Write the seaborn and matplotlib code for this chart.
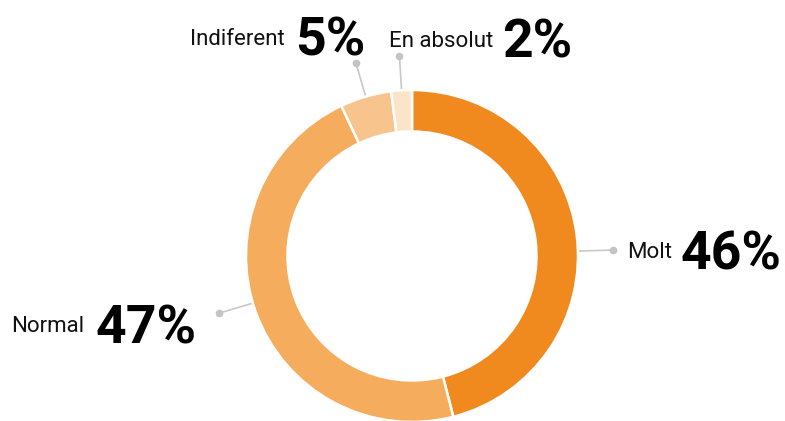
import numpy as np
import matplotlib
matplotlib.use('Agg')
import matplotlib.pyplot as plt
import seaborn as sns

labels = ['Molt', 'Normal', 'Indiferent', 'En absolut']
values = [46, 47, 5, 2]
colors = ['#F18A1E', '#F5AC5C', '#F8C48E', '#FCE4C8']

sns.set_theme(style='white')
plt.rcParams['font.family'] = ['Roboto', 'DejaVu Sans']

W, H = 785, 421
fig = plt.figure(figsize=(W / 100, H / 100), dpi=100)
ax = fig.add_axes([0, 0, 1, 1])

cx, cy, r = 412, H - 256, 166
wedges, _ = ax.pie(values, colors=colors, startangle=90, counterclock=False,
                   radius=r, center=(cx, cy),
                   wedgeprops=dict(width=r * 0.25, edgecolor='white', linewidth=1.8))
ax.set_xlim(0, W)
ax.set_ylim(0, H)
ax.set_aspect('equal')
ax.axis('off')

# label layout (pixels): name x, name baseline, number x, number baseline, leader angle
layout = {
    'Molt': (627, 258, 681, 270, 1.7),
    'Normal': (11, 332, 96, 343, -163.5),
    'Indiferent': (190, 45, 295, 55, None),
    'En absolut': (389, 47, 502, 58, None),
}
for w, lab, val in zip(wedges, labels, values):
    nx, ny, vx, vy, ang = layout[lab]
    if ang is None:
        ang = (w.theta1 + w.theta2) / 2
    a = np.deg2rad(ang)
    x0, y0 = cx + r * np.cos(a), cy + r * np.sin(a)
    x1, y1 = cx + r * 1.21 * np.cos(a), cy + r * 1.21 * np.sin(a)
    ax.plot([x0, x1], [y0, y1], color='#c8c8c8', lw=1.2, zorder=0)
    ax.plot(x1, y1, 'o', color='#c4c4c4', ms=4.5, zorder=0)

    fig.text(nx / W, 1 - ny / H, lab, fontsize=16, color='#111111',
             ha='left', va='baseline')
    fig.text(vx / W, 1 - vy / H, f'{val}%', fontsize=38.5, fontweight='bold',
             color='#000000', ha='left', va='baseline')

fig.savefig('out.png', dpi=100)
